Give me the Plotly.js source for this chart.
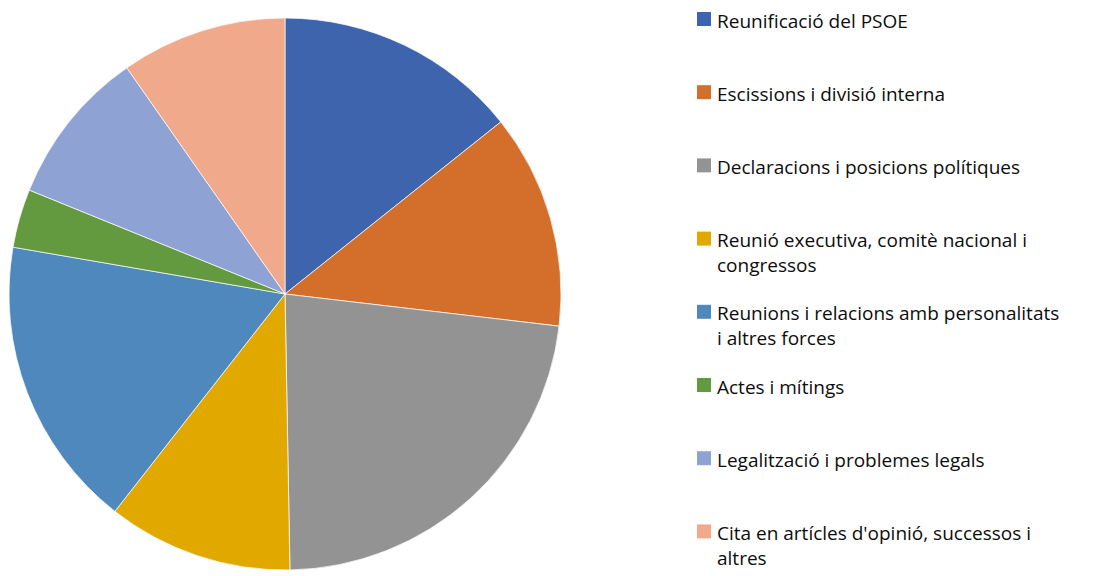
<!DOCTYPE html>
<html>
<head>
<meta charset="utf-8">
<script src="https://cdn.plot.ly/plotly-3.0.1.min.js"></script>
<style>
  html, body { margin: 0; padding: 0; background: #fff; }
  #chart { width: 1095px; height: 576px; }
</style>
</head>
<body>
<div id="chart"></div>
<script>
const categories = [
    "Reunificació del PSOE",
    "Escissions i divisió interna",
    "Declaracions i posicions polítiques",
    "Reunió executiva, comitè nacional i<br>congressos",
    "Reunions i relacions amb personalitats<br>i altres forces",
    "Actes i mítings",
    "Legalització i problemes legals",
    "Cita en artícles d'opinió, successos i<br>altres"
];
const counts = [25, 22, 40, 19, 30, 6, 16, 17];
const sliceColors = [
    "#3E64AD", "#D36F2B", "#939393", "#E1A900",
    "#4E88BC", "#639A3F", "#8EA2D3", "#F0A98A"
];

const W = 1095, H = 576;
const px = x => x / W;
const py = y => 1 - y / H;

// hand-placed legend, like the Excel one: fixed spacing per entry
const legTop = 19, legStep = 73.2;
const boxX0 = 697, boxX1 = 711, textX = 715;
const fontSize = 19;
const halfLine = fontSize * 1.3 / 2 + 1;

const legendShapes = [];
const legendNotes = [];
categories.forEach((cat, i) => {
    const yc = legTop + legStep * i;
    legendShapes.push({
        type: "rect", xref: "paper", yref: "paper",
        x0: px(boxX0), x1: px(boxX1),
        y0: py(yc - 7), y1: py(yc + 7),
        fillcolor: sliceColors[i], line: { width: 0 }
    });
    legendNotes.push({
        xref: "paper", yref: "paper",
        x: px(textX), y: py(yc - halfLine),
        xanchor: "left", yanchor: "top", align: "left",
        text: cat, showarrow: false,
        font: { family: "'Open Sans', 'Liberation Sans', sans-serif", size: fontSize, color: "#0d0d0d" }
    });
});

const trace = {
    type: "pie",
    labels: categories,
    values: counts,
    sort: false,
    direction: "clockwise",
    rotation: 0,
    textinfo: "none",
    hoverinfo: "label+value+percent",
    showlegend: false,
    marker: {
        colors: sliceColors,
        line: { color: "#ffffff", width: 0.7 }
    },
    domain: {
        x: [px(9), px(561)],
        y: [py(570), py(18)]
    }
};

const layout = {
    width: W,
    height: H,
    margin: { l: 0, r: 0, t: 0, b: 0 },
    paper_bgcolor: "#ffffff",
    showlegend: false,
    shapes: legendShapes,
    annotations: legendNotes
};

Plotly.newPlot("chart", [trace], layout, { displayModeBar: false, staticPlot: true });
</script>
</body>
</html>
